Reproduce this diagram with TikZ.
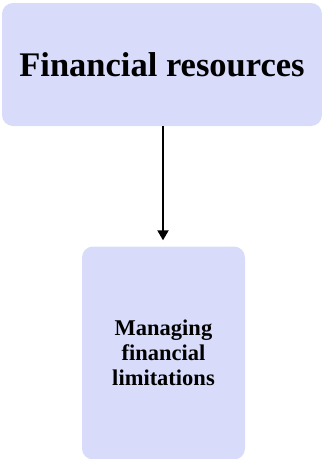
\documentclass[tikz,border=0pt]{standalone}
\usepackage{fontspec}
\setmainfont{Liberation Serif}
\usetikzlibrary{arrows.meta}
\definecolor{boxfill}{HTML}{D8DCFA}
\tikzset{
  box/.style={fill=boxfill, draw=none, rounded corners=11pt, inner sep=0pt, align=center, font=\bfseries},
  link/.style={draw=black, line width=2pt, -{Triangle[length=10pt,width=11pt]}}
}
\begin{document}
\begin{tikzpicture}[x=1pt,y=-1pt]
\useasboundingbox (0,0) rectangle (322,459);
\node[box, minimum width=320pt, minimum height=123pt, font=\bfseries\fontsize{34.5}{40}\selectfont] (top) at (162,64.5) {Financial resources};
\node[box, minimum width=163pt, minimum height=213pt, font=\bfseries\fontsize{22.5}{25}\selectfont] (bot) at (163.5,353) {Managing\\financial\\limitations};
\draw[link] (top.south -| 163,0) -- ([yshift=6pt]bot.north -| 163,0);
\end{tikzpicture}
\end{document}
